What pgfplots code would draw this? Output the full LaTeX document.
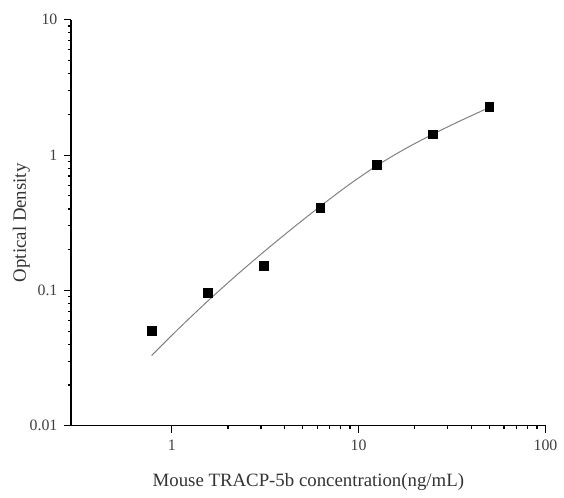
\documentclass[border=0pt]{standalone}
\usepackage{pgfplots}
\pgfplotsset{compat=1.18}
\usepackage{fontspec}
\setmainfont{Liberation Serif}

\begin{document}
\begin{tikzpicture}
\begin{axis}[
  scale only axis,
  width=239.5pt, height=205pt,
  xmode=log, ymode=log,
  xmin=0.29, xmax=100,
  ymin=0.01, ymax=10,
  axis lines=left,
  axis line style={-, line width=0.8pt},
  tick align=outside,
  major tick length=3.5pt,
  minor tick length=1.8pt,
  every tick/.style={black, line width=0.6pt},
  xtick={1,10,100}, xticklabels={1,10,100},
  ytick={0.01,0.1,1,10}, yticklabels={0.01,0.1,1,10},
  /pgf/number format/assume math mode=true,
  ticklabel style={font=\fontsize{8}{9}\selectfont, color=black!75},
  label style={font=\fontsize{9.5}{11}\selectfont, color=black!80},
  xlabel={Mouse TRACP-5b concentration(ng/mL)},
  ylabel={Optical Density},
  xlabel shift={5pt},
  ylabel shift={-7pt},
  clip=false,
]
% fitted curve
\addplot[gray, line width=0.5pt, smooth, no marks] coordinates {
  (0.78,0.0330) (1.1,0.0529) (1.56,0.0835) (2.2,0.1280) (3.125,0.1940)
  (4.4,0.2859) (6.25,0.4195) (8.8,0.5989) (12.5,0.8346) (17.7,1.1113)
  (25,1.4287) (35,1.7922) (50,2.2462)
};
% standards
\addplot[only marks, mark=square*, mark size=2.2pt, black] coordinates {
  (0.78,0.0505) (1.56,0.096) (3.125,0.151) (6.25,0.407)
  (12.5,0.849) (25,1.425) (50,2.27)
};
\end{axis}
\path (-36pt,-33.5pt) rectangle (246pt,215pt);
\end{tikzpicture}
\end{document}
